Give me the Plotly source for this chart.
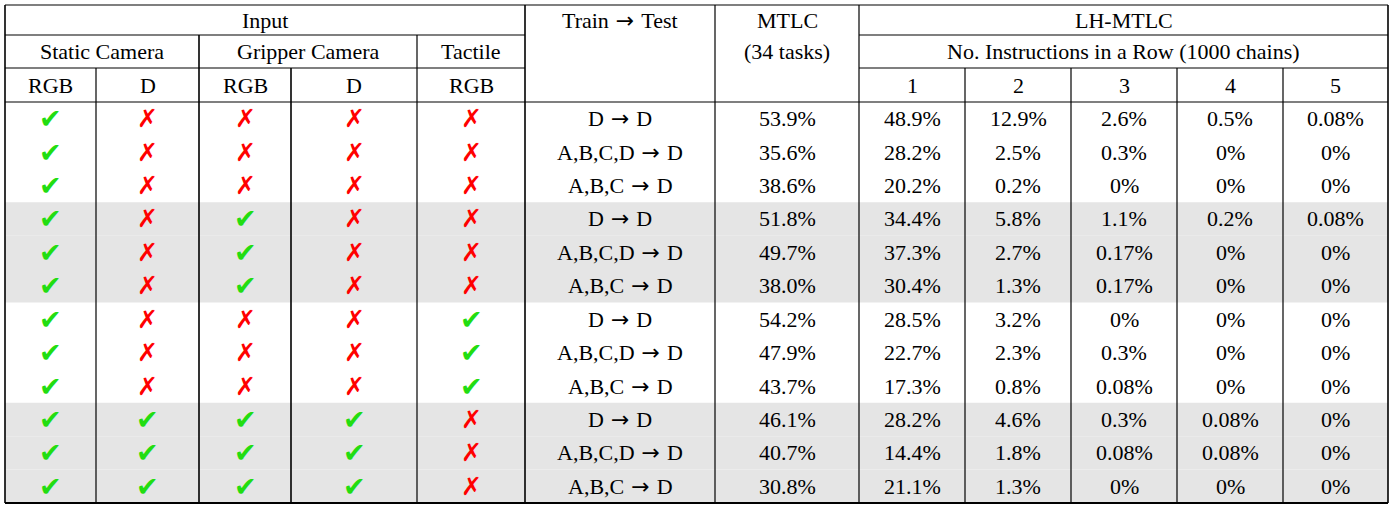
import plotly.graph_objects as go

# table content
static_rgb  = [1,1,1, 1,1,1, 1,1,1, 1,1,1]
static_d    = [0,0,0, 0,0,0, 0,0,0, 1,1,1]
gripper_rgb = [0,0,0, 1,1,1, 0,0,0, 1,1,1]
gripper_d   = [0,0,0, 0,0,0, 0,0,0, 1,1,1]
tactile_rgb = [0,0,0, 0,0,0, 1,1,1, 0,0,0]
train_test = ["D→D", "A,B,C,D→D", "A,B,C→D"] * 4
mtlc = ["53.9%", "35.6%", "38.6%", "51.8%", "49.7%", "38.0%",
        "54.2%", "47.9%", "43.7%", "46.1%", "40.7%", "30.8%"]
lh1 = ["48.9%", "28.2%", "20.2%", "34.4%", "37.3%", "30.4%",
       "28.5%", "22.7%", "17.3%", "28.2%", "14.4%", "21.1%"]
lh2 = ["12.9%", "2.5%", "0.2%", "5.8%", "2.7%", "1.3%",
       "3.2%", "2.3%", "0.8%", "4.6%", "1.8%", "1.3%"]
lh3 = ["2.6%", "0.3%", "0%", "1.1%", "0.17%", "0.17%",
       "0%", "0.3%", "0.08%", "0.3%", "0.08%", "0%"]
lh4 = ["0.5%", "0%", "0%", "0.2%", "0%", "0%",
       "0%", "0%", "0%", "0.08%", "0.08%", "0%"]
lh5 = ["0.08%", "0%", "0%", "0.08%", "0%", "0%",
       "0%", "0%", "0%", "0%", "0%", "0%"]
shaded_rows = [3, 4, 5, 9, 10, 11]

# geometry (pixels)
edges = [5, 96, 199, 291, 417, 525, 715, 859, 965, 1071, 1177, 1283, 1388]
hdr = [5, 35, 68, 102]
row_h = (503 - 102) / 12
rows_y = [102 + i * row_h for i in range(13)]

FONT = "Liberation Serif, Times New Roman, serif"
ARROW = "<span style='font-family:DejaVu Sans'> → </span>"
fig = go.Figure()
shapes, ann = [], []

def line(x0, y0, x1, y1, w=1.2):
    shapes.append(dict(type="line", x0=x0, y0=y0, x1=x1, y1=y1,
                       line=dict(color="black", width=w), layer="above"))

def text(xa, xb, ya, yb, s, size=22, color="black", font=FONT):
    ann.append(dict(x=(xa + xb) / 2, y=(ya + yb) / 2, text=s.replace("→", ARROW),
                    showarrow=False, font=dict(family=font, size=size, color=color),
                    xanchor="center", yanchor="middle"))

for r in shaded_rows:
    shapes.append(dict(type="rect", x0=edges[0], x1=edges[-1], y0=rows_y[r], y1=rows_y[r + 1],
                       fillcolor="#e5e5e5", line=dict(width=0), layer="below"))

# header text
text(edges[0], edges[5], hdr[0], hdr[1], "Input")
text(edges[5], edges[6], hdr[0], hdr[1], "Train→Test")
text(edges[6], edges[7], hdr[0], hdr[1], "MTLC")
text(edges[7], edges[12], hdr[0], hdr[1], "LH-MTLC")
text(edges[0], edges[2], hdr[1], hdr[2], "Static Camera")
text(edges[2], edges[4], hdr[1], hdr[2], "Gripper Camera")
text(edges[4], edges[5], hdr[1], hdr[2], "Tactile")
text(edges[6], edges[7], hdr[1], hdr[2], "(34 tasks)")
text(edges[7], edges[12], hdr[1], hdr[2], "No. Instructions in a Row (1000 chains)")
for i, s in enumerate(["RGB", "D", "RGB", "D", "RGB"]):
    text(edges[i], edges[i + 1], hdr[2], hdr[3], s)
for i, s in enumerate(["1", "2", "3", "4", "5"]):
    text(edges[7 + i], edges[8 + i], hdr[2], hdr[3], s)

# body
flags = [static_rgb, static_d, gripper_rgb, gripper_d, tactile_rgb]
cols = [train_test, mtlc, lh1, lh2, lh3, lh4, lh5]
for r in range(12):
    y0, y1 = rows_y[r], rows_y[r + 1]
    for c, f in enumerate(flags):
        if f[r]:
            text(edges[c], edges[c + 1], y0, y1, "✔", 27, "#22dd11", "DejaVu Sans")
        else:
            text(edges[c], edges[c + 1], y0, y1, "✗", 25, "#ff0000", "DejaVu Sans")
    for c, col in enumerate(cols):
        text(edges[5 + c], edges[6 + c], y0, y1, col[r])

# rules
line(edges[0], hdr[0], edges[-1], hdr[0])
line(edges[0], hdr[1], edges[5], hdr[1])
line(edges[7], hdr[1], edges[-1], hdr[1])
line(edges[0], hdr[2], edges[5], hdr[2])
line(edges[7], hdr[2], edges[-1], hdr[2])
line(edges[0], hdr[3], edges[-1], hdr[3])
line(edges[0], rows_y[-1], edges[-1], rows_y[-1], 2.2)
line(edges[0], hdr[0], edges[0], rows_y[-1], 1.6)
line(edges[-1], hdr[0], edges[-1], rows_y[-1], 1.6)
for x in [edges[5], edges[6], edges[7]]:
    line(x, hdr[0], x, rows_y[-1], 1.6 if x == edges[5] else 1.2)
for x in [edges[2], edges[4]]:
    line(x, hdr[1], x, rows_y[-1], 1.6 if x == edges[2] else 1.2)
for x in [edges[1], edges[3]] + edges[8:12]:
    line(x, hdr[2], x, rows_y[-1], 1.6 if x == edges[3] else 1.2)

fig.update_layout(
    width=1392, height=508, margin=dict(l=0, r=0, t=0, b=0),
    plot_bgcolor="white", paper_bgcolor="white",
    xaxis=dict(range=[0, 1392], visible=False, fixedrange=True),
    yaxis=dict(range=[508, 0], visible=False, fixedrange=True),
    shapes=shapes, annotations=ann, showlegend=False,
)
fig.write_html("out.html", config={"displayModeBar": False},
               post_script="document.body.style.margin='0';document.body.style.overflow='hidden';")
